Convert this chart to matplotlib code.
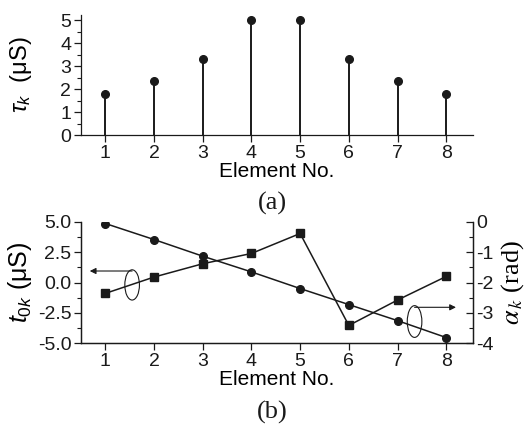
import matplotlib
matplotlib.use("Agg")
import matplotlib.pyplot as plt
from matplotlib.patches import Ellipse
from matplotlib.ticker import MultipleLocator

# Element indices and per-element parameters
elements = [1, 2, 3, 4, 5, 6, 7, 8]
tau_k = [1.8, 2.35, 3.3, 5.0, 5.0, 3.3, 2.35, 1.8]          # μS
t0_k = [-0.9, 0.45, 1.55, 2.4, 4.05, -3.55, -1.45, 0.5]     # μS
alpha_k = [-0.05, -0.58, -1.13, -1.65, -2.2, -2.73, -3.26, -3.82]  # rad

x_ticks = [1, 2, 3, 4, 5, 6, 7, 8]
tau_ticks = [0, 1, 2, 3, 4, 5]
t0_ticks = [-5.0, -2.5, 0.0, 2.5, 5.0]
alpha_ticks = [-4, -3, -2, -1, 0]

INK = "#1a1a1a"
plt.rcParams["font.family"] = ["Liberation Sans", "DejaVu Sans"]
plt.rcParams["mathtext.fontset"] = "custom"
plt.rcParams["mathtext.rm"] = "Liberation Sans"
plt.rcParams["mathtext.it"] = "Liberation Sans:italic"
plt.rcParams["axes.linewidth"] = 0.9
plt.rcParams["axes.edgecolor"] = INK
plt.rcParams["text.color"] = INK

fig = plt.figure(figsize=(5.28, 4.25), dpi=100)
W, H = 528, 425
TICK_FS = 14


def px_axes(l, t, r, b):
    return fig.add_axes([l / W, 1 - b / H, (r - l) / W, (b - t) / H])


def style_ticks(ax):
    ax.tick_params(axis="both", which="major", labelsize=TICK_FS, length=5,
                   width=0.9, color=INK, labelcolor=INK, pad=2, direction="out")
    ax.tick_params(axis="y", which="minor", length=3, width=0.8, color=INK,
                   direction="out")


# ---------- (a) stem plot of tau_k ----------
ax1 = px_axes(81, 15, 473, 135)
ml, sl, bl = ax1.stem(elements, tau_k, basefmt=" ")
plt.setp(sl, color=INK, linewidth=1.4)
plt.setp(ml, color=INK, marker="o", markersize=5.5)
ax1.set_xlim(0.5, 8.55)
ax1.set_ylim(0, 5.24)
ax1.set_xticks(x_ticks)
ax1.set_yticks(tau_ticks)
ax1.yaxis.set_minor_locator(MultipleLocator(0.5))
for s in ("top", "right"):
    ax1.spines[s].set_visible(False)
style_ticks(ax1)
ax1.set_xlabel("Element No.", fontsize=15, labelpad=0)
ax1.set_ylabel(r"$\tau_k$  (μS)", fontsize=17)
ax1.yaxis.set_label_coords(-0.12, 0.5)
fig.text(272 / W, 1 - 203 / H, "(a)", family="Liberation Serif", fontsize=19,
         ha="center", va="center")

# ---------- (b) t0_k (left) and alpha_k (right) ----------
ax2 = px_axes(81, 222, 473, 343)
ax2.plot(elements, t0_k, color=INK, linewidth=1.1, marker="s", markersize=5.2)
ax2.set_xlim(0.5, 8.55)
ax2.set_ylim(-5.0, 5.0)
ax2.set_xticks(x_ticks)
ax2.set_yticks(t0_ticks)
ax2.set_yticklabels([f"{v:.1f}" for v in t0_ticks])
ax2.yaxis.set_minor_locator(MultipleLocator(1.25))
ax2.spines["top"].set_visible(False)
style_ticks(ax2)
ax2.set_xlabel("Element No.", fontsize=15, labelpad=0)
ax2.set_ylabel(r"$t_{0k}$ (μS)", fontsize=18)
ax2.yaxis.set_label_coords(-0.12, 0.5)

ax3 = ax2.twinx()
ax3.plot(elements, alpha_k, color=INK, linewidth=1.1, marker="o", markersize=5.5)
ax3.set_ylim(-4.0, 0.0)
ax3.set_yticks(alpha_ticks)
ax3.set_yticklabels([str(v) for v in alpha_ticks])
ax3.yaxis.set_minor_locator(MultipleLocator(0.5))
ax3.spines["top"].set_visible(False)
ax3.tick_params(axis="y", which="major", labelsize=TICK_FS, length=5, width=0.9,
                color=INK, labelcolor=INK, pad=2, direction="in")
ax3.tick_params(axis="y", which="minor", length=3, width=0.8, color=INK,
                direction="in")
ax3.set_ylabel(r"$\alpha_{\,k}$ (rad)", fontsize=19, family="Liberation Serif",
               math_fontfamily="stix")
ax3.yaxis.set_label_coords(1.068, 0.5)

# Series identifiers: ellipse around each curve with an arrow to its axis
ax2.add_patch(Ellipse((1.55, -0.2), 0.3, 2.5, fill=False, edgecolor=INK,
                      linewidth=0.8, zorder=5))
ax2.annotate("", xy=(0.68, 0.95), xytext=(1.55, 0.95),
             arrowprops=dict(arrowstyle="-|>", color=INK, lw=0.8,
                             mutation_scale=9, shrinkA=0, shrinkB=0))
ax3.add_patch(Ellipse((7.35, -3.29), 0.3, 1.05, fill=False, edgecolor=INK,
                      linewidth=0.8, zorder=5))
ax3.annotate("", xy=(8.2, -2.82), xytext=(7.35, -2.82),
             arrowprops=dict(arrowstyle="-|>", color=INK, lw=0.8,
                             mutation_scale=9, shrinkA=0, shrinkB=0))

fig.text(272 / W, 1 - 412 / H, "(b)", family="Liberation Serif", fontsize=19,
         ha="center", va="center")

fig.savefig("out.png", dpi=100)
